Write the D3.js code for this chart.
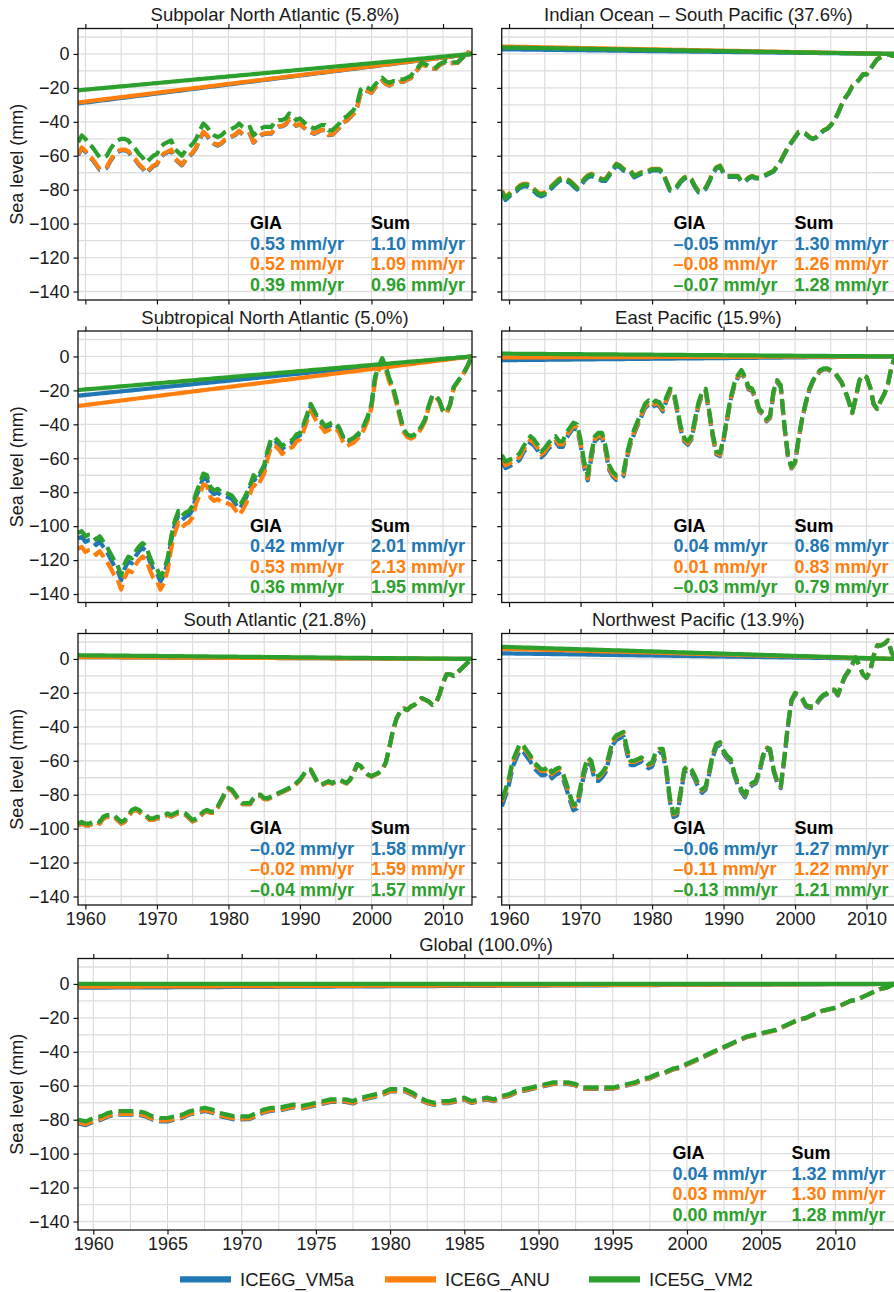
<!DOCTYPE html>
<html>
<head>
<meta charset="utf-8">
<script src="https://cdn.jsdelivr.net/npm/d3@7"></script>
<style>
  html, body { margin: 0; padding: 0; background: #fff; }
  svg { display: block; font-family: "Liberation Sans", Arial, Helvetica, sans-serif; }
</style>
</head>
<body>
<svg id="fig" width="894" height="1292"></svg>
<script>
// GIA models and their colours
const models = ["ICE6G_VM5a", "ICE6G_ANU", "ICE5G_VM2"];
const modelColors = ["#1f77b4", "#ff7f0e", "#2ca02c"];

// Half-yearly time axis; every curve is referenced to zero at the end year
const endYear = 2014;
const years = d3.range(1959, 2014.001, 0.5);

const yTicks = [-140, -120, -100, -80, -60, -40, -20, 0];
const xTicksRegional = [1960, 1970, 1980, 1990, 2000, 2010];
const xTicksGlobal = [1960, 1965, 1970, 1975, 1980, 1985, 1990, 1995, 2000, 2005, 2010];

// Sea level (mm) with the ICE5G_VM2 correction, one value per half year 1959.0-2014.0
const subpolarNA = [
  -52, -48, -50, -53, -55, -58, -61, -61, -60, -56, -53, -51, -50, -50, -51, -54,
  -56, -59, -61, -64, -62, -60, -59, -55, -53, -52, -51, -56, -58, -60, -57, -55,
  -53, -50, -45, -41, -43, -46, -48, -49, -48, -46, -45, -44, -43, -41, -43, -44,
  -43, -48, -46, -44, -43, -43, -43, -40, -39, -39, -38, -35, -37, -39, -38, -40,
  -42, -43, -44, -43, -42, -42, -45, -45, -43, -41, -38, -37, -35, -33, -29, -21,
  -19, -20, -21, -18, -16, -14, -16, -17, -16, -16, -15, -15, -14, -13, -10, -8,
  -5, -6, -7, -8, -8, -6, -5, -4, -5, -5, -5, -3, -1, 1, 0
];
const indianSouthPacific = [
  -81, -85, -83, -81, -80, -78, -77, -77, -78, -80, -82, -83, -82, -80, -78, -76,
  -74, -73, -74, -75, -77, -79, -77, -74, -72, -71, -72, -73, -74, -74, -71, -68,
  -65, -66, -68, -69, -69, -72, -71, -70, -70, -69, -68, -68, -68, -70, -75, -80,
  -80, -78, -75, -73, -72, -74, -78, -81, -81, -79, -75, -70, -67, -66, -70, -72,
  -72, -72, -72, -75, -75, -73, -72, -73, -73, -72, -71, -70, -69, -66, -63, -59,
  -55, -52, -49, -46, -46, -47, -49, -50, -49, -47, -45, -44, -42, -39, -35, -30,
  -26, -23, -19, -17, -15, -12, -12, -9, -6, -3, -2, -1, 0, -1, -1
];
const subtropicalNA = [
  -104, -103, -106, -105, -105, -108, -106, -109, -112, -116, -120, -123, -129, -122, -118, -119,
  -115, -112, -110, -112, -118, -123, -125, -130, -126, -119, -106, -97, -91, -94, -92, -91,
  -88, -80, -75, -69, -70, -77, -79, -78, -80, -80, -81, -82, -85, -88, -85, -81,
  -76, -70, -72, -68, -64, -55, -48, -48, -50, -53, -51, -50, -49, -46, -45, -40,
  -34, -28, -32, -36, -38, -41, -40, -39, -39, -42, -47, -50, -49, -48, -46, -44,
  -40, -35, -28, -12, -6, -1, -6, -13, -18, -26, -35, -43, -46, -47, -46, -44,
  -41, -37, -29, -23, -23, -26, -32, -33, -28, -18, -15, -12, -9, -5, 0
];
const eastPacific = [
  -58, -62, -61, -60, -59, -57, -53, -50, -47, -49, -52, -56, -54, -51, -49, -47,
  -50, -50, -45, -42, -39, -40, -49, -62, -70, -57, -47, -45, -45, -53, -64, -68,
  -70, -70, -68, -57, -49, -43, -38, -33, -28, -26, -28, -26, -27, -30, -24, -19,
  -20, -30, -41, -48, -50, -47, -37, -27, -21, -19, -32, -46, -56, -57, -48, -36,
  -24, -16, -11, -8, -12, -18, -19, -24, -31, -33, -37, -35, -20, -14, -17, -40,
  -58, -65, -62, -48, -36, -27, -19, -14, -11, -8, -7, -7, -8, -9, -12, -15,
  -20, -26, -33, -24, -14, -11, -12, -18, -28, -31, -26, -22, -16, -6, 0
];
const southAtlantic = [
  -97, -96, -97, -97, -96, -95, -96, -93, -92, -92, -92, -94, -96, -95, -92, -89,
  -88, -89, -91, -92, -94, -94, -93, -93, -92, -91, -92, -91, -90, -90, -91, -93,
  -95, -94, -92, -90, -89, -90, -90, -87, -83, -79, -76, -77, -80, -83, -85, -85,
  -85, -82, -80, -80, -82, -82, -81, -80, -79, -78, -77, -76, -75, -73, -71, -68,
  -65, -65, -69, -73, -74, -73, -72, -73, -72, -71, -72, -73, -71, -67, -62, -63,
  -66, -68, -69, -68, -67, -65, -61, -52, -42, -35, -31, -29, -30, -28, -27, -25,
  -23, -24, -25, -27, -26, -21, -14, -9, -9, -10, -8, -6, -4, -2, 0
];
const northwestPacific = [
  -83, -77, -70, -60, -55, -50, -51, -54, -57, -61, -63, -65, -65, -63, -67, -65,
  -64, -67, -73, -80, -86, -85, -75, -65, -58, -60, -69, -69, -67, -64, -56, -48,
  -45, -44, -43, -53, -60, -60, -59, -58, -60, -62, -61, -55, -53, -53, -65, -82,
  -91, -90, -78, -65, -63, -65, -69, -74, -77, -75, -66, -56, -50, -49, -54, -57,
  -59, -67, -73, -77, -80, -75, -73, -72, -66, -57, -52, -53, -65, -72, -75, -58,
  -39, -24, -20, -21, -23, -27, -28, -28, -26, -23, -21, -20, -18, -18, -21, -15,
  -10, -7, -3, 1, -4, -9, -11, -7, 2, 8, 8, 9, 11, 4, 0
];
const globalMean = [
  -80, -81, -79, -78, -76, -75, -75, -75, -75, -76, -78, -79, -79, -78, -77, -75,
  -74, -73, -74, -76, -77, -78, -78, -78, -76, -74, -73, -73, -72, -71, -72, -71,
  -70, -69, -68, -68, -68, -69, -67, -66, -65, -64, -62, -62, -62, -64, -67, -69,
  -70, -69, -69, -68, -67, -69, -68, -67, -68, -66, -65, -63, -62, -61, -60, -59,
  -58, -58, -58, -59, -61, -61, -61, -61, -61, -60, -59, -58, -56, -55, -53, -52,
  -50, -49, -47, -45, -43, -41, -39, -37, -35, -33, -31, -30, -29, -28, -27, -25,
  -23, -21, -20, -18, -16, -15, -14, -12, -10, -9, -7, -5, -3, -2, 0
];

// GIA trends and total (sum) trends in mm/yr, ordered as `models`
const giaSubpolarNA = [0.53, 0.52, 0.39];
const sumSubpolarNA = [1.10, 1.09, 0.96];
const giaIndianSouthPacific = [-0.05, -0.08, -0.07];
const sumIndianSouthPacific = [1.30, 1.26, 1.28];
const giaSubtropicalNA = [0.42, 0.53, 0.36];
const sumSubtropicalNA = [2.01, 2.13, 1.95];
const giaEastPacific = [0.04, 0.01, -0.03];
const sumEastPacific = [0.86, 0.83, 0.79];
const giaSouthAtlantic = [-0.02, -0.02, -0.04];
const sumSouthAtlantic = [1.58, 1.59, 1.57];
const giaNorthwestPacific = [-0.06, -0.11, -0.13];
const sumNorthwestPacific = [1.27, 1.22, 1.21];
const giaGlobal = [0.04, 0.03, 0.00];
const sumGlobal = [1.32, 1.30, 1.28];

// ---- layout ----
const colX = [[78, 472], [501.7, 895.5]];
const rowTop = [28.5, 331, 633.5];
const panelH = 271.5;

const panels = [
  { title: "Subpolar North Atlantic (5.8%)", values: subpolarNA, gia: giaSubpolarNA, sum: sumSubpolarNA, col: 0, row: 0 },
  { title: "Indian Ocean \u2013 South Pacific (37.6%)", values: indianSouthPacific, gia: giaIndianSouthPacific, sum: sumIndianSouthPacific, col: 1, row: 0 },
  { title: "Subtropical North Atlantic (5.0%)", values: subtropicalNA, gia: giaSubtropicalNA, sum: sumSubtropicalNA, col: 0, row: 1 },
  { title: "East Pacific (15.9%)", values: eastPacific, gia: giaEastPacific, sum: sumEastPacific, col: 1, row: 1 },
  { title: "South Atlantic (21.8%)", values: southAtlantic, gia: giaSouthAtlantic, sum: sumSouthAtlantic, col: 0, row: 2 },
  { title: "Northwest Pacific (13.9%)", values: northwestPacific, gia: giaNorthwestPacific, sum: sumNorthwestPacific, col: 1, row: 2 },
  { title: "Global (100.0%)", values: globalMean, gia: giaGlobal, sum: sumGlobal, global: true }
];

panels.forEach(p => {
  if (p.global) { p.x0 = 78; p.x1 = 895.5; p.y0 = 958.5; }
  else { p.x0 = colX[p.col][0]; p.x1 = colX[p.col][1]; p.y0 = rowTop[p.row]; }
  p.y1 = p.y0 + panelH;
});

const xDomain = [1958.97, 2014.05];
const yDomain = [-145, 15];
const svg = d3.select("#fig");
const defs = svg.append("defs");

const fmtRate = v => (v < 0 ? "\u2013" : "") + Math.abs(v).toFixed(2) + " mm/yr";
const txtColor = "#1a1a1a";

panels.forEach((p, i) => {
  const x = d3.scaleLinear().domain(xDomain).range([p.x0, p.x1]);
  const y = d3.scaleLinear().domain(yDomain).range([p.y1, p.y0]);
  const g = svg.append("g");

  defs.append("clipPath").attr("id", "clip" + i)
    .append("rect").attr("x", p.x0).attr("y", p.y0)
    .attr("width", p.x1 - p.x0).attr("height", p.y1 - p.y0);

  // grid
  const gridX = d3.range(1960, 2014.01, p.global ? 2.5 : 5);
  const gridY = d3.range(-140, 10.01, 10);
  const grid = g.append("g").attr("clip-path", `url(#clip${i})`);
  grid.selectAll("line.gx").data(gridX).join("line").attr("class", "gx")
    .attr("x1", d => x(d)).attr("x2", d => x(d))
    .attr("y1", p.y0).attr("y2", p.y1)
    .attr("stroke", "#d6d6d6").attr("stroke-width", 1);
  grid.selectAll("line.gy").data(gridY).join("line").attr("class", "gy")
    .attr("x1", p.x0).attr("x2", p.x1)
    .attr("y1", d => y(d)).attr("y2", d => y(d))
    .attr("stroke", "#dedede").attr("stroke-width", 1.3);

  // data: GIA trend (solid) and total sea level (dashed) per model
  const plot = g.append("g").attr("clip-path", `url(#clip${i})`);
  const line = d3.line().x(d => x(d[0])).y(d => y(d[1]));
  models.forEach((m, k) => {
    const giaLine = years.map(t => [t, p.gia[k] * (t - endYear)]);
    const total = years.map((t, j) => [t, p.values[j] + (p.gia[k] - p.gia[2]) * (t - endYear)]);
    plot.append("path").datum(giaLine).attr("d", line)
      .attr("fill", "none").attr("stroke", modelColors[k]).attr("stroke-width", 4.2);
    plot.append("path").datum(total).attr("d", line)
      .attr("fill", "none").attr("stroke", modelColors[k]).attr("stroke-width", 4.2)
      .attr("stroke-dasharray", "15,6").attr("stroke-linejoin", "round");
  });

  // axes
  const xTicks = p.global ? xTicksGlobal : xTicksRegional;
  const showXLabels = p.global || p.row === 2;
  const showYLabels = p.global || p.col === 0;
  const styleAxis = sel => {
    sel.select(".domain").remove();
    sel.selectAll(".tick line").attr("stroke", "#111").attr("stroke-width", 1.2);
    sel.selectAll(".tick text").attr("fill", txtColor)
      .style("font-size", "18px").style("font-family", '"Liberation Sans", Arial, sans-serif');
  };
  g.append("g").attr("transform", `translate(0,${p.y1})`)
    .call(d3.axisBottom(x).tickValues(xTicks).tickSize(4.5).tickPadding(3)
      .tickFormat(showXLabels ? d3.format("d") : () => ""))
    .call(styleAxis);
  g.append("g").attr("transform", `translate(0,${p.y0})`)
    .call(d3.axisTop(x).tickValues(xTicks).tickSize(4.5).tickFormat(() => ""))
    .call(styleAxis);
  g.append("g").attr("transform", `translate(${p.x0},0)`)
    .call(d3.axisLeft(y).tickValues(yTicks).tickSize(4.5).tickPadding(4)
      .tickFormat(showYLabels ? d3.format("d") : () => ""))
    .call(styleAxis);
  g.append("g").attr("transform", `translate(${p.x1},0)`)
    .call(d3.axisRight(y).tickValues(yTicks).tickSize(4.5).tickFormat(() => ""))
    .call(styleAxis);

  // frame
  g.append("rect").attr("x", p.x0).attr("y", p.y0)
    .attr("width", p.x1 - p.x0).attr("height", p.y1 - p.y0)
    .attr("fill", "none").attr("stroke", "#111").attr("stroke-width", 1.3);

  // title
  g.append("text").attr("x", (p.x0 + Math.min(p.x1, 894)) / 2 + (p.col === 1 ? 0.5 : 0))
    .attr("y", p.y0 - 13.5).attr("dy", "0.35em")
    .attr("text-anchor", "middle").attr("fill", txtColor)
    .style("font-size", "18.5px").text(p.title);

  // y label
  if (showYLabels) {
    g.append("text")
      .attr("transform", `translate(17,${(p.y0 + p.y1) / 2}) rotate(-90)`)
      .attr("dy", "0.35em").attr("text-anchor", "middle").attr("fill", txtColor)
      .style("font-size", "18px").text("Sea level (mm)");
  }

  // trend annotation
  const ann = g.append("g").style("font-size", "18px").style("font-weight", "bold");
  const giaX = p.x1 - (p.global ? 223 : 222);
  const sumX = p.x1 - (p.global ? 104 : 101);
  const rowY = k => p.y1 - 77 + k * 20.5;
  ann.append("text").attr("x", giaX).attr("y", rowY(0)).attr("dy", "0.35em")
    .attr("fill", "#000").text("GIA");
  ann.append("text").attr("x", sumX).attr("y", rowY(0)).attr("dy", "0.35em")
    .attr("fill", "#000").text("Sum");
  models.forEach((m, k) => {
    ann.append("text").attr("x", giaX).attr("y", rowY(k + 1)).attr("dy", "0.35em")
      .attr("fill", modelColors[k]).text(fmtRate(p.gia[k]));
    ann.append("text").attr("x", sumX).attr("y", rowY(k + 1)).attr("dy", "0.35em")
      .attr("fill", modelColors[k]).text(fmtRate(p.sum[k]));
  });
});

// legend
const legendX = [180, 385, 589];
const legend = svg.append("g");
models.forEach((m, k) => {
  legend.append("line").attr("x1", legendX[k]).attr("x2", legendX[k] + 51)
    .attr("y1", 1279.3).attr("y2", 1279.3)
    .attr("stroke", modelColors[k]).attr("stroke-width", 6.2);
  legend.append("text").attr("x", legendX[k] + 60).attr("y", 1279.3).attr("dy", "0.35em")
    .attr("fill", txtColor).style("font-size", "18.5px").text(m);
});
</script>
</body>
</html>
